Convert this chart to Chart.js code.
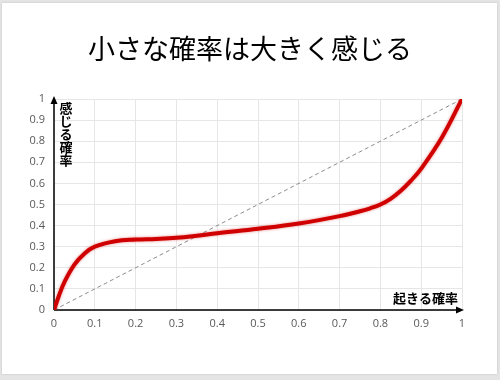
<!DOCTYPE html>
<html>
<head>
<meta charset="utf-8">
<script src="https://cdn.jsdelivr.net/npm/chart.js@4"></script>
<style>
  html, body { margin: 0; padding: 0; background: #e4e4e4; }
  #slide { position: absolute; left: 2px; top: 3px; width: 495px; height: 371px; background: #fff;
           box-shadow: 0 0 2px rgba(0,0,0,0.15); }
  #wrap { position: absolute; left: 0; top: 0; width: 500px; height: 380px; }
</style>
</head>
<body>
<div id="slide"></div>
<div id="wrap"><canvas id="graphique" width="500" height="380"></canvas></div>
<script>
// Données
const titreGraphique = "小さな確率は大きく感じる";
const labelAxeX = "起きる確率";
const labelAxeY = "感じる確率";
const probaObjective = [0, 0.0125, 0.025, 0.05, 0.075, 0.1, 0.15, 0.2, 0.25, 0.3, 0.35, 0.4, 0.5, 0.6, 0.7, 0.75, 0.775, 0.8, 0.825, 0.85, 0.875, 0.9, 0.95, 1];
const probaRessentie = [0, 0.07, 0.13, 0.215, 0.268, 0.3, 0.326, 0.334, 0.337, 0.342, 0.352, 0.364, 0.385, 0.41, 0.445, 0.468, 0.482, 0.5, 0.527, 0.565, 0.613, 0.67, 0.815, 1];
const diagonaleX = [0, 1];
const diagonaleY = [0, 1];

const policeTicks = { family: "'Open Sans', 'Noto Sans', sans-serif", size: 11 };

// libellé des ticks : 0, 0.1, ..., 1
function formatTick(value) {
    return String(Math.round(value * 10) / 10);
}

// Titre centré sur la page
const titrePage = {
    id: 'titrePage',
    afterDraw(chart) {
        const ctx = chart.ctx;
        ctx.save();
        ctx.font = "27px 'Noto Sans CJK JP'";
        ctx.fillStyle = '#000';
        ctx.textAlign = 'center';
        ctx.textBaseline = 'middle';
        ctx.fillText(titreGraphique, 250, 49);
        ctx.restore();
    }
};

// Axes noirs avec flèches + libellés des axes
const axesFleches = {
    id: 'axesFleches',
    beforeDatasetsDraw(chart) {
        const ctx = chart.ctx;
        const a = chart.chartArea;
        ctx.save();
        ctx.strokeStyle = '#000';
        ctx.fillStyle = '#000';
        ctx.lineWidth = 1.5;
        ctx.beginPath();
        ctx.moveTo(a.left, a.bottom);
        ctx.lineTo(a.right - 4, a.bottom);
        ctx.moveTo(a.left, a.bottom);
        ctx.lineTo(a.left, a.top + 4);
        ctx.stroke();
        // flèche x
        ctx.beginPath();
        ctx.moveTo(a.right + 2, a.bottom);
        ctx.lineTo(a.right - 6, a.bottom - 3.5);
        ctx.lineTo(a.right - 6, a.bottom + 3.5);
        ctx.closePath();
        ctx.fill();
        // flèche y
        ctx.beginPath();
        ctx.moveTo(a.left, a.top - 3);
        ctx.lineTo(a.left - 3.5, a.top + 5);
        ctx.lineTo(a.left + 3.5, a.top + 5);
        ctx.closePath();
        ctx.fill();

        ctx.font = "bold 13px 'Noto Sans CJK JP'";
        ctx.textBaseline = 'middle';
        ctx.textAlign = 'right';
        ctx.fillText(labelAxeX, a.right - 4, a.bottom - 12);
        ctx.textAlign = 'center';
        const chars = Array.from(labelAxeY);
        chars.forEach((c, i) => {
            ctx.fillText(c, a.left + 12, a.top + 9 + i * 13);
        });
        ctx.restore();
    }
};

// Léger halo sous la courbe rouge
const halo = {
    id: 'halo',
    beforeDatasetDraw(chart, args) {
        if (args.index === 0) {
            chart.ctx.save();
            chart.ctx.shadowColor = 'rgba(200,0,0,0.45)';
            chart.ctx.shadowBlur = 3;
        }
    },
    afterDatasetDraw(chart, args) {
        if (args.index === 0) chart.ctx.restore();
    }
};

const ctx = document.getElementById('graphique').getContext('2d');
const myChart = new Chart(ctx, {
    type: 'scatter',
    data: {
        datasets: [{
            data: probaObjective.map((x, i) => ({ x: x, y: probaRessentie[i] })),
            showLine: true,
            borderColor: '#d00000',
            borderWidth: 4,
            pointRadius: 0,
            tension: 0.4,
            order: 1
        }, {
            data: diagonaleX.map((x, i) => ({ x: x, y: diagonaleY[i] })),
            showLine: true,
            borderColor: '#8c8c8c',
            borderWidth: 1,
            borderDash: [4, 3],
            pointRadius: 0,
            order: 2
        }]
    },
    options: {
        responsive: false,
        animation: false,
        layout: { padding: { left: 0, right: 38, top: 99, bottom: 0 } },
        plugins: {
            legend: { display: false },
            tooltip: { enabled: false },
            title: { display: false }
        },
        scales: {
            x: {
                type: 'linear',
                min: 0,
                max: 1,
                afterFit: s => { s.height = 70; },
                ticks: { stepSize: 0.1, color: '#595959', font: policeTicks, padding: 7,
                         autoSkip: false, maxRotation: 0, callback: formatTick },
                grid: { color: '#e6e6e6', drawTicks: false },
                border: { display: false }
            },
            y: {
                type: 'linear',
                min: 0,
                max: 1,
                afterFit: s => { s.width = 54; },
                ticks: { stepSize: 0.1, color: '#595959', font: policeTicks, padding: 9,
                         autoSkip: false, callback: formatTick },
                grid: { color: '#e6e6e6', drawTicks: false },
                border: { display: false }
            }
        }
    },
    plugins: [axesFleches, halo, titrePage]
});
</script>
</body>
</html>
